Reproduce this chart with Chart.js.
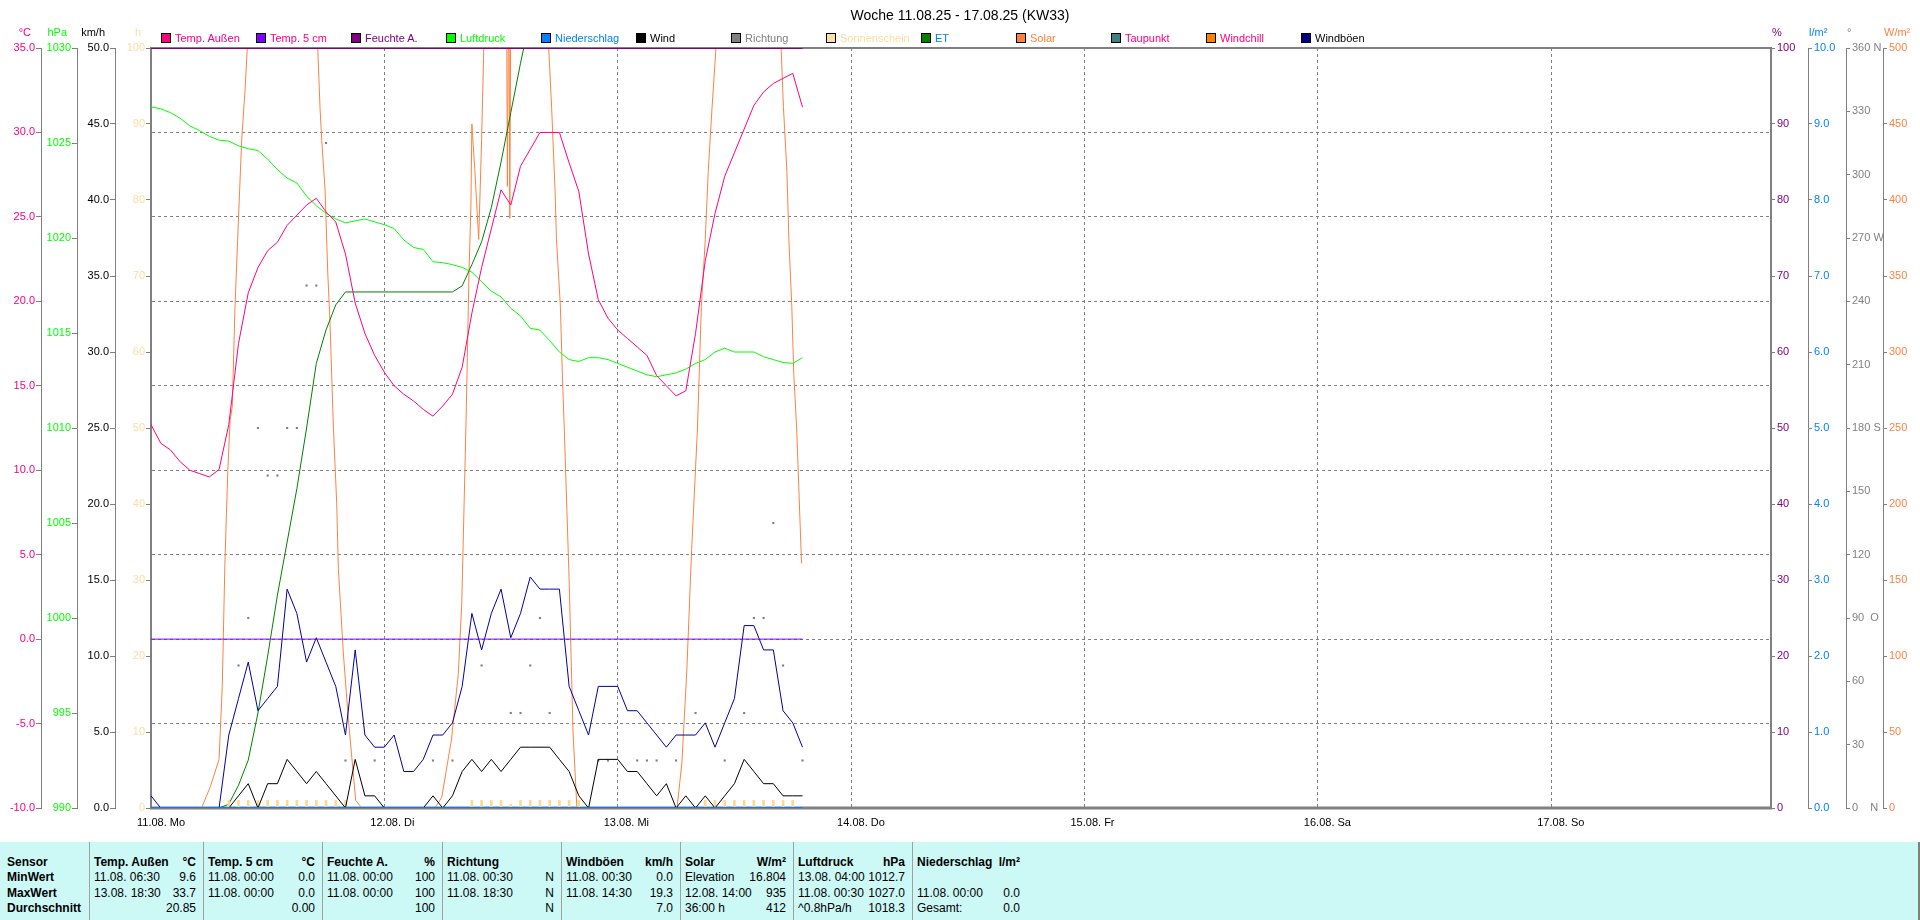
<!DOCTYPE html>
<html lang="de">
<head>
<meta charset="utf-8" />
<title>Woche 11.08.25 - 17.08.25 (KW33)</title>
<script src="https://cdn.jsdelivr.net/npm/chart.js"></script>
<style>
  html,
  body {
    margin: 0;
    padding: 0;
    background: #ffffff;
  }
  body {
    position: relative;
    width: 1920px;
    height: 920px;
    overflow: hidden;
    font-family: "Liberation Sans", Arial, sans-serif;
  }
  #week-chart {
    position: absolute;
    left: 0;
    top: 0;
  }
  #title {
    position: absolute;
    left: 0;
    top: 6px;
    width: 1920px;
    text-align: center;
    font-size: 14px;
    line-height: 18px;
    color: #000000;
  }
  .legend-item {
    position: absolute;
    top: 32px;
    height: 12px;
    display: flex;
    align-items: center;
    font-size: 11px;
    white-space: nowrap;
  }
  .legend-box {
    width: 10px;
    height: 10px;
    box-sizing: border-box;
    border: 1px solid #000000;
    margin-right: 4px;
  }
  #stats {
    position: absolute;
    left: 0;
    top: 842px;
    width: 1920px;
    height: 78px;
    box-sizing: border-box;
    background: #ccf8f6;
    border-right: 2px solid #808080;
  }
  #stats .cell {
    position: absolute;
    font-family: "Liberation Sans", Arial, sans-serif;
    font-size: 12px;
    line-height: 14px;
    white-space: nowrap;
    color: #000000;
  }
  #stats .bold {
    font-weight: bold;
  }
  #stats .sep {
    position: absolute;
    top: 0;
    width: 1px;
    height: 78px;
    background: #a0a0a0;
  }
</style>
</head>
<body>
<canvas id="week-chart" width="1920" height="840"></canvas>
<div id="title">Woche 11.08.25 - 17.08.25 (KW33)</div>
<div id="legend"></div>
<div id="stats"></div>
<script>
// hours counted from 11.08. 00:00
const hours = [
  0, 1, 2, 3, 4, 5, 6, 7, 8, 9, 10, 11, 12, 13, 14, 15, 16, 17, 18, 19, 20, 21,
  22, 23, 24, 25, 26, 27, 28, 29, 30, 31, 32, 33, 34, 35, 36, 37, 38, 39, 40, 41,
  42, 43, 44, 45, 46, 47, 48, 49, 50, 51, 52, 53, 54, 55, 56, 57, 58, 59, 60, 61,
  62, 63, 64, 65, 66, 67,
];
const tempOut = [
  12.7, 11.6, 11.2, 10.5, 10.0, 9.8, 9.6, 10.05, 12.7, 17.5, 20.5, 22.0, 23.0,
  23.5, 24.5, 25.1, 25.7, 26.1, 25.3, 24.7, 22.8, 19.9, 18.1, 16.8, 15.8, 15.0,
  14.5, 14.1, 13.6, 13.2, 13.8, 14.5, 16.1, 19.3, 22.0, 24.3, 26.6, 25.7, 28.0,
  29.0, 30.0, 30.0, 30.0, 28.2, 26.5, 22.8, 20.1, 19.0, 18.3, 17.8, 17.3, 16.8,
  15.6, 15.0, 14.4, 14.7, 18.1, 22.4, 25.2, 27.4, 28.8, 30.2, 31.6, 32.4, 32.9,
  33.2, 33.5, 31.5,
];
const pressure = [
  1026.9, 1026.8, 1026.6, 1026.3, 1025.9, 1025.65, 1025.35, 1025.15, 1025.1,
  1024.85, 1024.7, 1024.6, 1024.15, 1023.6, 1023.15, 1022.9, 1022.2, 1021.7,
  1021.3, 1021.0, 1020.8, 1020.9, 1021.0, 1020.85, 1020.7, 1020.5, 1019.9,
  1019.5, 1019.4, 1018.75, 1018.7, 1018.6, 1018.45, 1018.2, 1017.7, 1017.2,
  1016.9, 1016.3, 1015.9, 1015.25, 1015.15, 1014.6, 1014.0, 1013.6, 1013.5,
  1013.7, 1013.7, 1013.6, 1013.4, 1013.2, 1013.0, 1012.8, 1012.7, 1012.8,
  1012.9, 1013.1, 1013.4, 1013.6, 1014.0, 1014.2, 1014.0, 1014.0, 1014.0,
  1013.75, 1013.6, 1013.45, 1013.4, 1013.7,
];
const wind = [
  0, 0, 0, 0, 0, 0, 0, 0, 0, 0.8, 1.6, 0, 1.6, 1.6, 3.2, 2.4, 1.6, 2.4, 1.6, 0.8,
  0, 3.2, 0.8, 0.8, 0, 0, 0, 0, 0, 0.8, 0, 0.8, 2.4, 3.2, 2.4, 3.2, 2.4, 3.2, 4.0,
  4.0, 4.0, 4.0, 3.2, 2.4, 0.8, 0, 3.2, 3.2, 3.2, 2.4, 2.4, 1.6, 0.8, 1.6, 0, 0.8,
  0, 0.8, 0, 0.8, 1.6, 3.2, 2.4, 1.6, 1.6, 0.8, 0.8, 0.8,
];
const gusts = [
  0.8, 0, 0, 0, 0, 0, 0, 0, 4.8, 7.2, 9.6, 6.4, 7.2, 8.0, 14.4, 12.8, 9.6, 11.2,
  9.6, 8.0, 4.8, 10.4, 4.8, 4.0, 4.0, 4.8, 2.4, 2.4, 3.2, 4.8, 4.8, 5.6, 8.0,
  12.8, 10.4, 12.8, 14.4, 11.2, 12.8, 15.2, 14.4, 14.4, 14.4, 8.0, 6.4, 4.8, 8.0,
  8.0, 8.0, 6.4, 6.4, 5.6, 4.8, 4.0, 4.8, 4.8, 4.8, 5.6, 4.0, 5.6, 7.2, 12.0,
  12.0, 10.4, 10.4, 6.4, 5.6, 4.0,
];
const flatHours = [0, 67];
const soilTemp = [0.0, 0.0];
const humidity = [100, 100];
const rain = [0.0, 0.0];

const dirHours = [
  9, 10, 11, 12, 13, 14, 15, 16, 17, 18, 20, 23, 29, 31, 34, 37, 38, 39, 40, 41,
  46, 47, 50, 51, 52, 54, 56, 59, 61, 62, 63, 64, 65, 67,
];
const dirValues = [
  67.5, 90, 180, 157.5, 157.5, 180, 180, 247.5, 247.5, 315, 22.5, 22.5, 22.5,
  22.5, 67.5, 45, 45, 67.5, 90, 45, 22.5, 22.5, 22.5, 22.5, 22.5, 22.5, 45, 22.5,
  45, 90, 90, 135, 67.5, 22.5,
];

const sunHours = [
  8, 9, 10, 11, 12, 13, 14, 15, 16, 17, 18, 19, 20, 33, 34, 35, 36, 37, 38, 39,
  40, 41, 42, 43, 44, 57, 58, 59, 60, 61, 62, 63, 64, 65, 66,
];
const sunValues = [
  1, 1, 1, 1, 1, 1, 1, 1, 1, 1, 1, 1, 1, 1, 1, 1, 1, 0.5, 1, 1, 1, 1, 1, 1, 1, 1,
  1, 1, 1, 1, 1, 1, 1, 1, 1,
];

const etHours = [
  7, 8, 9, 10, 11, 12, 13, 14, 15, 16, 17, 18, 19, 20, 31, 32, 33, 34, 35, 36,
  37, 38, 39,
];
const etValues = [
  0, 0.05, 0.3, 0.63, 1.25, 2.0, 2.8, 3.5, 4.2, 5.0, 5.85, 6.29, 6.62, 6.79,
  6.79, 6.87, 7.15, 7.45, 7.9, 8.5, 9.15, 9.8, 10.4,
];

const solarHours = [
  0, 5.2, 6.1, 7.0, 7.33, 7.6, 7.9, 8.13, 8.36, 8.64, 8.98, 9.33, 9.67, 9.9, 11,
  13, 15, 17.15, 17.38, 17.56, 17.9, 18.18, 18.41, 18.75, 19.1, 19.27, 19.78,
  20.3, 20.8, 21.05, 21.67, 29.2, 29.9, 30.9, 31.6, 31.96, 32.2, 32.4, 32.5,
  32.7, 32.9, 33.0, 33.3, 33.7, 34.0, 34.3, 35.5, 36.5, 36.65, 36.8, 36.9, 37.05,
  38, 39.5, 40.9, 41.2, 41.55, 41.7, 42.1, 42.3, 42.5, 43.0, 43.4, 43.8, 54.1,
  54.6, 55.1, 55.6, 56.2, 56.6, 57.0, 57.3, 57.7, 58.1, 60, 62, 63.5, 64.8,
  65.04, 65.4, 65.6, 65.9, 66.1, 66.4, 66.9,
];
const solarValues = [
  0, 0, 14, 32, 80, 161, 222, 255, 264, 330, 385, 440, 472, 500, 700, 850, 800,
  500, 461, 439, 407, 352, 319, 252, 200, 157, 102, 58, 23, 5, 0, 0, 7, 45, 88,
  135, 200, 255, 286, 352, 396, 450, 420, 374, 440, 520, 750, 650, 409, 560, 388,
  600, 935, 800, 500, 461, 407, 374, 330, 286, 250, 150, 50, 0, 0, 30, 90, 170,
  250, 330, 374, 418, 461, 500, 800, 900, 750, 500, 461, 418, 374, 330, 286, 250,
  161,
];

const dayTicks = [0, 24, 48, 72, 96, 120, 144];
const dayLabels = [
  "11.08. Mo",
  "12.08. Di",
  "13.08. Mi",
  "14.08. Do",
  "15.08. Fr",
  "16.08. Sa",
  "17.08. So",
];
const axisEnd = 166.6;

const legendNames = [
  "Temp. Außen",
  "Temp. 5 cm",
  "Feuchte A.",
  "Luftdruck",
  "Niederschlag",
  "Wind",
  "Richtung",
  "Sonnenschein",
  "ET",
  "Solar",
  "Taupunkt",
  "Windchill",
  "Windböen",
];
const legendBoxColors = [
  "#ff0080", "#8000ff", "#800080", "#00ff00", "#0080ff", "#000000", "#808080",
  "#ffe0a0", "#008000", "#ff8040", "#408080", "#ff8000", "#000080",
];
const legendTextColors = [
  "#ff0080", "#ff0080", "#800080", "#00ff00", "#0080ff", "#000000", "#808080",
  "#ffdca0", "#0080ff", "#ff8040", "#ff0080", "#ff0080", "#000000",
];

const statHeaders = [
  "Temp. Außen",
  "Temp. 5 cm",
  "Feuchte A.",
  "Richtung",
  "Windböen",
  "Solar",
  "Luftdruck",
  "Niederschlag",
];
const statUnits = ["°C", "°C", "%", "", "km/h", "W/m²", "hPa", "l/m²"];
const statMinTimes = [
  "11.08. 06:30", "11.08. 00:00", "11.08. 00:00", "11.08. 00:30",
  "11.08. 00:30", "Elevation", "13.08. 04:00", "",
];
const statMinValues = ["9.6", "0.0", "100", "N", "0.0", "16.804", "1012.7", ""];
const statMaxTimes = [
  "13.08. 18:30", "11.08. 00:00", "11.08. 00:00", "11.08. 18:30",
  "11.08. 14:30", "12.08. 14:00", "11.08. 00:30", "11.08. 00:00",
];
const statMaxValues = ["33.7", "0.0", "100", "N", "19.3", "935", "1027.0", "0.0"];
const statAvgTimes = ["", "", "", "", "", "36:00 h", "^0.8hPa/h", "Gesamt:"];
const statAvgValues = ["20.85", "0.00", "100", "N", "7.0", "412", "1018.3", "0.0"];

const axisUnits = {
  yT: "°C",
  yHpa: "hPa",
  yK: "km/h",
  yH: "h",
  yP: "%",
  yL: "l/m²",
  yD: "°",
  yW: "W/m²",
};
const axisColors = {
  yT: "#ff0080",
  yHpa: "#00ff00",
  yK: "#000000",
  yH: "#ffdca0",
  yP: "#800080",
  yL: "#0080ff",
  yD: "#808080",
  yW: "#ff8040",
};
const dirLetters = { 0: "0    N", 90: "90  O", 180: "180 S", 270: "270 W", 360: "360 N" };

// legend row
const legend = document.getElementById("legend");
legendNames.forEach((name, i) => {
  const item = document.createElement("div");
  item.className = "legend-item";
  item.style.left = 161 + i * 95 + "px";
  const box = document.createElement("span");
  box.className = "legend-box";
  box.style.background = legendBoxColors[i];
  const text = document.createElement("span");
  text.textContent = name;
  text.style.color = legendTextColors[i];
  item.appendChild(box);
  item.appendChild(text);
  legend.appendChild(item);
});

// statistics table
const stats = document.getElementById("stats");
const separators = [89, 203, 322, 442, 561, 680, 793, 912];
const colLeft = [94, 208, 327, 447, 566, 685, 798, 917];
const colRight = [198, 317, 437, 556, 675, 788, 907, 1022];
const rowTops = [13, 28, 44, 59];

const addCell = (text, x, top, alignRight, bold) => {
  if (!text) return;
  const el = document.createElement("div");
  el.className = bold ? "cell bold" : "cell";
  el.textContent = text;
  el.style.top = top + "px";
  if (alignRight) {
    el.style.right = 1920 - x + "px";
  } else {
    el.style.left = x + "px";
  }
  stats.appendChild(el);
};

separators.forEach((x) => {
  const sep = document.createElement("div");
  sep.className = "sep";
  sep.style.left = x + "px";
  stats.appendChild(sep);
});

["Sensor", "MinWert", "MaxWert", "Durchschnitt"].forEach((label, r) => {
  addCell(label, 7, rowTops[r], false, true);
});

statHeaders.forEach((name, c) => {
  addCell(name, colLeft[c], rowTops[0], false, true);
  addCell(statUnits[c], colRight[c], rowTops[0], true, true);
  addCell(statMinTimes[c], colLeft[c], rowTops[1], false, false);
  addCell(statMinValues[c], colRight[c], rowTops[1], true, false);
  addCell(statMaxTimes[c], colLeft[c], rowTops[2], false, false);
  addCell(statMaxValues[c], colRight[c], rowTops[2], true, false);
  addCell(statAvgTimes[c], colLeft[c], rowTops[3], false, false);
  addCell(statAvgValues[c], colRight[c], rowTops[3], true, false);
});

// chart
Chart.defaults.font.family = '"Liberation Sans", Arial, sans-serif';
Chart.defaults.font.size = 11;

const points = (xs, ys) => xs.map((x, i) => ({ x: x, y: ys[i] }));

const line = (label, xs, ys, color, axis, width) => ({
  type: "line",
  label: label,
  data: points(xs, ys),
  yAxisID: axis,
  borderColor: color,
  backgroundColor: color,
  borderWidth: width || 1,
  pointRadius: 0,
  tension: 0,
  fill: false,
});

const yAxis = (position, weight, width, min, max, step, id, format) => ({
  type: "linear",
  position: position,
  weight: weight,
  min: min,
  max: max,
  afterFit: (scale) => {
    scale.width = width;
  },
  grid: {
    drawOnChartArea: false,
    drawTicks: true,
    tickLength: position === "left" ? 5 : 4,
    tickColor: "#808080",
    color: "#808080",
  },
  border: { display: true, color: "#808080", width: 1 },
  ticks: {
    stepSize: step,
    autoSkip: false,
    color: axisColors[id],
    padding: position === "left" ? 1 : 2,
    font: { size: 11 },
    callback: format,
  },
});

const tempAxis = yAxis("left", 3, 41, -10, 35, 5, "yT", (v) => v.toFixed(1));
tempAxis.grid.drawOnChartArea = true;
tempAxis.border.dash = [3, 3];

const framePlugin = {
  id: "frame",
  beforeDatasetsDraw(chart) {
    const { ctx, chartArea: a } = chart;
    const w = a.right - a.left;
    const h = a.bottom - a.top;
    ctx.save();
    ctx.fillStyle = "#808080";
    ctx.fillRect(a.left - 1, a.top - 1, w + 2, 2);
    ctx.fillRect(a.left - 1, a.bottom - 1.5, w + 2, 3);
    ctx.fillRect(a.left - 1, a.top - 1, 2, h + 2);
    ctx.fillRect(a.right - 1, a.top - 1, 2, h + 2);
    ctx.restore();
  },
};

const unitPlugin = {
  id: "units",
  afterDraw(chart) {
    const ctx = chart.ctx;
    ctx.save();
    ctx.font = '11px "Liberation Sans", Arial, sans-serif';
    ctx.textBaseline = "middle";
    Object.keys(axisUnits).forEach((id) => {
      const scale = chart.scales[id];
      ctx.fillStyle = axisColors[id];
      if (scale.options.position === "left") {
        ctx.textAlign = "right";
        ctx.fillText(axisUnits[id], scale.right - 10, 33);
      } else {
        ctx.textAlign = "left";
        ctx.fillText(axisUnits[id], scale.left + 1, 33);
      }
    });
    ctx.restore();
  },
};

const ctx = document.getElementById("week-chart").getContext("2d");
const weekChart = new Chart(ctx, {
  type: "line",
  data: {
    datasets: [
      line("Temp. Außen", hours, tempOut, "#ff0080", "yT"),
      line("Temp. 5 cm", flatHours, soilTemp, "#8000ff", "yT"),
      line("Feuchte A.", flatHours, humidity, "#800080", "yP", 2),
      line("Luftdruck", hours, pressure, "#00ff00", "yHpa"),
      line("Niederschlag", flatHours, rain, "#0080ff", "yL", 2),
      line("Wind", hours, wind, "#000000", "yK"),
      line("Windböen", hours, gusts, "#0000a0", "yK"),
      {
        type: "line",
        label: "Richtung",
        data: points(dirHours, dirValues),
        yAxisID: "yD",
        showLine: false,
        pointStyle: "rect",
        pointRadius: 1.5,
        pointBorderWidth: 0,
        pointBackgroundColor: "#808080",
        borderColor: "#808080",
      },
      {
        type: "bar",
        label: "Sonnenschein",
        data: points(sunHours, sunValues),
        yAxisID: "yH",
        backgroundColor: "#ffd890",
        borderWidth: 0,
        barThickness: 2,
        grouped: false,
      },
      line("ET", etHours, etValues, "#008000", "yL"),
      line("Solar", solarHours, solarValues, "#ff8040", "yW"),
    ],
  },
  options: {
    responsive: false,
    animation: false,
    events: [],
    layout: { padding: { top: 48, left: 0, right: 0, bottom: 0 } },
    plugins: {
      legend: { display: false },
      tooltip: { enabled: false },
    },
    scales: {
      x: {
        type: "linear",
        position: "bottom",
        min: 0,
        max: axisEnd,
        offset: false,
        afterBuildTicks: (scale) => {
          scale.ticks = dayTicks.map((v) => ({ value: v }));
        },
        afterFit: (scale) => {
          scale.height = 32;
        },
        grid: { color: "#808080", drawTicks: false, offset: false },
        border: { display: false, dash: [3, 3] },
        ticks: {
          align: "start",
          labelOffset: -14,
          padding: 8,
          maxRotation: 0,
          autoSkip: false,
          color: "#000000",
          font: { size: 11 },
          callback: (value, index) => dayLabels[index],
        },
      },
      yT: tempAxis,
      yHpa: yAxis("left", 2, 36, 990, 1030, 5, "yHpa", (v) => String(v)),
      yK: yAxis("left", 1, 38, 0, 50, 5, "yK", (v) => v.toFixed(1)),
      yH: yAxis("left", 0, 36, 0, 100, 10, "yH", (v) => String(v)),
      yP: yAxis("right", 0, 37, 0, 100, 10, "yP", (v) => String(v)),
      yL: yAxis("right", 1, 38, 0, 10, 1, "yL", (v) => v.toFixed(1)),
      yD: yAxis("right", 2, 37, 0, 360, 30, "yD", (v) => dirLetters[v] || String(v)),
      yW: yAxis("right", 3, 37, 0, 500, 50, "yW", (v) => String(v)),
    },
  },
  plugins: [framePlugin, unitPlugin],
});
</script>
</body>
</html>
